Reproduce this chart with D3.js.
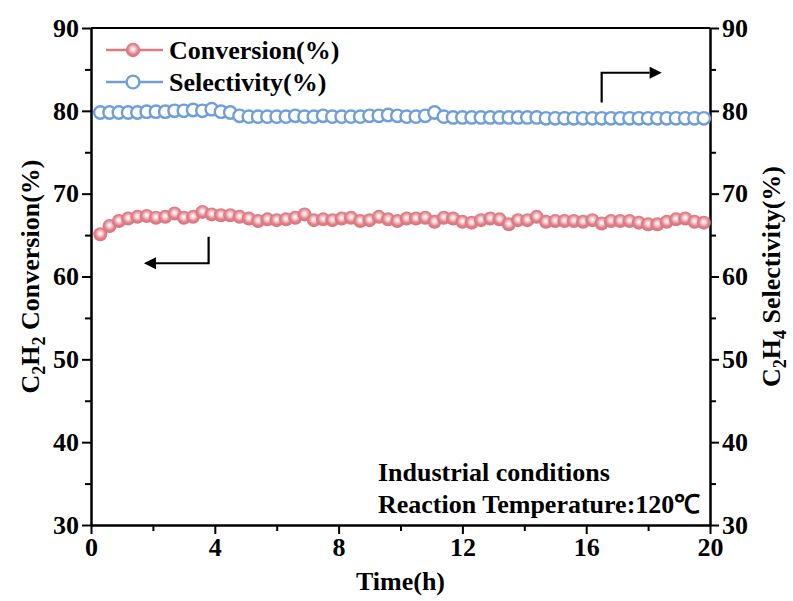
<!DOCTYPE html>
<html>
<head>
<meta charset="utf-8">
<script src="https://cdn.jsdelivr.net/npm/d3@7"></script>
<style>
  body { margin: 0; background: #fff; }
  svg text { font-family: "Liberation Serif", "Times New Roman", serif; font-weight: bold; fill: #000; }
</style>
</head>
<body>
<div id="chart"></div>
<script>
// time (h) of each sample
let timeH = [0.3, 0.6, 0.9, 1.2, 1.5, 1.8, 2.1, 2.4, 2.7, 3.0, 3.3, 3.6, 3.9, 4.2, 4.5, 4.8, 5.1, 5.4, 5.7, 6.0,
             6.3, 6.6, 6.9, 7.2, 7.5, 7.8, 8.1, 8.4, 8.7, 9.0, 9.3, 9.6, 9.9, 10.2, 10.5, 10.8, 11.1, 11.4, 11.7, 12.0,
             12.3, 12.6, 12.9, 13.2, 13.5, 13.8, 14.1, 14.4, 14.7, 15.0, 15.3, 15.6, 15.9, 16.2, 16.5, 16.8, 17.1, 17.4, 17.7, 18.0,
             18.3, 18.6, 18.9, 19.2, 19.5, 19.8];

let conversion = [65.1, 66.1, 66.7, 67.0, 67.2, 67.3, 67.1, 67.2, 67.6, 67.1, 67.2, 67.8, 67.5, 67.4, 67.4, 67.2, 67.0, 66.7, 66.9, 66.8,
                  66.9, 67.1, 67.5, 66.8, 66.9, 66.8, 67.0, 67.1, 66.7, 66.8, 67.2, 66.9, 66.7, 67.0, 67.0, 67.1, 66.6, 67.1, 67.0, 66.6,
                  66.5, 66.8, 67.0, 66.9, 66.3, 66.8, 66.8, 67.2, 66.6, 66.7, 66.7, 66.7, 66.6, 66.8, 66.4, 66.7, 66.7, 66.7, 66.5, 66.3,
                  66.3, 66.6, 66.9, 67.0, 66.6, 66.5];

let selectivity = [79.8, 79.8, 79.8, 79.8, 79.8, 79.9, 79.9, 79.9, 80.0, 80.0, 80.1, 80.0, 80.2, 79.9, 79.8, 79.4, 79.3, 79.3, 79.3, 79.3,
                   79.3, 79.4, 79.3, 79.3, 79.4, 79.3, 79.3, 79.3, 79.3, 79.4, 79.4, 79.5, 79.4, 79.3, 79.3, 79.4, 79.8, 79.3, 79.2, 79.2,
                   79.2, 79.2, 79.2, 79.2, 79.2, 79.2, 79.2, 79.2, 79.1, 79.1, 79.1, 79.1, 79.1, 79.1, 79.1, 79.1, 79.1, 79.1, 79.1, 79.1,
                   79.1, 79.1, 79.1, 79.1, 79.1, 79.1];

let xTicks = [0, 4, 8, 12, 16, 20];
let xMinor = [2, 6, 10, 14, 18];
let yTicks = [30, 40, 50, 60, 70, 80, 90];
let yMinor = [35, 45, 55, 65, 75, 85];
let seriesNames = ["Conversion(%)", "Selectivity(%)"];
let notes = ["Industrial conditions", "Reaction Temperature:120\u2103"];

let width = 793, height = 601;
let margin = {top: 28, right: 83, bottom: 76, left: 91};
let pinkColor = "#df7a83", blueColor = "#6f9fd8";

let svg = d3.select("#chart").append("svg")
    .attr("width", width)
    .attr("height", height);

let defs = svg.append("defs");
let grad = defs.append("radialGradient").attr("id", "ball")
    .attr("cx", "50%").attr("cy", "45%").attr("r", "55%");
grad.append("stop").attr("offset", "0%").attr("stop-color", "#ffffff");
grad.append("stop").attr("offset", "25%").attr("stop-color", "#f7d8da");
grad.append("stop").attr("offset", "65%").attr("stop-color", "#e0808a");
grad.append("stop").attr("offset", "100%").attr("stop-color", "#d9727b");

defs.append("marker").attr("id", "head")
    .attr("viewBox", "0 0 10 10").attr("refX", 0).attr("refY", 5)
    .attr("markerWidth", 7).attr("markerHeight", 5.5)
    .attr("markerUnits", "strokeWidth").attr("orient", "auto")
    .append("path").attr("d", "M0,0 L10,5 L0,10 Z").attr("fill", "#000");

let x = d3.scaleLinear().domain([0, 20]).range([margin.left, width - margin.right]);
let yL = d3.scaleLinear().domain([30, 90]).range([height - margin.bottom, margin.top]);
let yR = d3.scaleLinear().domain([30, 90]).range([height - margin.bottom, margin.top]);

// axes
function styleAxis(g) {
    g.selectAll("path.domain").attr("stroke-width", 2);
    g.selectAll(".tick line").attr("stroke-width", 2);
    g.selectAll("text").style("font-size", "26px");
}

svg.append("g").attr("transform", "translate(0," + (height - margin.bottom) + ")")
    .call(d3.axisBottom(x).tickValues(xMinor).tickSize(6).tickFormat("").tickSizeOuter(0))
    .call(styleAxis);
svg.append("g").attr("transform", "translate(0," + (height - margin.bottom) + ")")
    .call(d3.axisBottom(x).tickValues(xTicks).tickSize(9).tickPadding(4).tickFormat(d3.format("d")).tickSizeOuter(0))
    .call(styleAxis);

svg.append("g").attr("transform", "translate(" + margin.left + ",0)")
    .call(d3.axisLeft(yL).tickValues(yMinor).tickSize(6).tickFormat("").tickSizeOuter(0))
    .call(styleAxis);
svg.append("g").attr("transform", "translate(" + margin.left + ",0)")
    .call(d3.axisLeft(yL).tickValues(yTicks).tickSize(9).tickPadding(3).tickSizeOuter(0))
    .call(styleAxis);

svg.append("g").attr("transform", "translate(" + (width - margin.right) + ",0)")
    .call(d3.axisRight(yR).tickValues(yMinor).tickSize(6).tickFormat("").tickSizeOuter(0))
    .call(styleAxis);
svg.append("g").attr("transform", "translate(" + (width - margin.right) + ",0)")
    .call(d3.axisRight(yR).tickValues(yTicks).tickSize(9).tickPadding(3).tickSizeOuter(0))
    .call(styleAxis);

// top border
svg.append("line")
    .attr("x1", x(0)).attr("x2", x(20))
    .attr("y1", yL(90)).attr("y2", yL(90))
    .attr("stroke", "#000").attr("stroke-width", 2);

// axis titles
let leftTitle = svg.append("text")
    .attr("transform", "translate(39," + ((margin.top + height - margin.bottom) / 2) + ") rotate(-90)")
    .attr("text-anchor", "middle")
    .style("font-size", "26px");
leftTitle.append("tspan").text("C");
leftTitle.append("tspan").text("2").attr("dy", 6).style("font-size", "18px");
leftTitle.append("tspan").text("H").attr("dy", -6);
leftTitle.append("tspan").text("2").attr("dy", 6).style("font-size", "18px");
leftTitle.append("tspan").text(" Conversion(%)").attr("dy", -6);

let rightTitle = svg.append("text")
    .attr("transform", "translate(780," + ((margin.top + height - margin.bottom) / 2) + ") rotate(-90)")
    .attr("text-anchor", "middle")
    .style("font-size", "26px");
rightTitle.append("tspan").text("C");
rightTitle.append("tspan").text("2").attr("dy", 6).style("font-size", "18px");
rightTitle.append("tspan").text("H").attr("dy", -6);
rightTitle.append("tspan").text("4").attr("dy", 6).style("font-size", "18px");
rightTitle.append("tspan").text(" Selectivity(%)").attr("dy", -6);

svg.append("text")
    .attr("x", (margin.left + width - margin.right) / 2)
    .attr("y", 590)
    .attr("text-anchor", "middle")
    .style("font-size", "26px")
    .text("Time(h)");

// data
let convData = timeH.map((t, i) => ({t: t, v: conversion[i]}));
let selData = timeH.map((t, i) => ({t: t, v: selectivity[i]}));

let line = d3.line().x(d => x(d.t)).y(d => yL(d.v));

svg.append("path").datum(convData)
    .attr("fill", "none").attr("stroke", pinkColor).attr("stroke-width", 2)
    .attr("d", line);
svg.append("g").selectAll("circle").data(convData).enter().append("circle")
    .attr("cx", d => x(d.t)).attr("cy", d => yL(d.v))
    .attr("r", 7)
    .attr("fill", "url(#ball)");

svg.append("path").datum(selData)
    .attr("fill", "none").attr("stroke", blueColor).attr("stroke-width", 2)
    .attr("d", line);
svg.append("g").selectAll("circle").data(selData).enter().append("circle")
    .attr("cx", d => x(d.t)).attr("cy", d => yR(d.v))
    .attr("r", 6.2)
    .attr("fill", "#fff").attr("stroke", blueColor).attr("stroke-width", 2.4);

// legend
let legend = svg.append("g");
[0, 1].forEach(function(i){
    let ly = 50 + i * 32;
    legend.append("line").attr("x1", 106).attr("x2", 163).attr("y1", ly).attr("y2", ly)
        .attr("stroke", i == 0 ? pinkColor : blueColor).attr("stroke-width", 2.5);
    if(i == 0){
        legend.append("circle").attr("cx", 133).attr("cy", ly).attr("r", 7.2).attr("fill", "url(#ball)");
    } else {
        legend.append("circle").attr("cx", 133).attr("cy", ly).attr("r", 6.4).attr("fill", "#fff")
            .attr("stroke", blueColor).attr("stroke-width", 2.4);
    }
    legend.append("text").attr("x", 169).attr("y", ly + 9).style("font-size", "26px").text(seriesNames[i]);
});

// arrows pointing at the matching axis
svg.append("path")
    .attr("d", "M" + x(3.8) + "," + yL(64.8) + " L" + x(3.8) + "," + yL(61.6) + " L" + x(2.1) + "," + yL(61.6))
    .attr("fill", "none").attr("stroke", "#000").attr("stroke-width", 2.2)
    .attr("marker-end", "url(#head)");
svg.append("path")
    .attr("d", "M" + x(16.5) + "," + yR(81.0) + " L" + x(16.5) + "," + yR(84.6) + " L" + x(18.05) + "," + yR(84.6))
    .attr("fill", "none").attr("stroke", "#000").attr("stroke-width", 2.2)
    .attr("marker-end", "url(#head)");

// notes
notes.forEach(function(n, i){
    svg.append("text").attr("x", 378).attr("y", 481 + i * 32)
        .style("font-size", "26px").text(n);
});
</script>
</body>
</html>
